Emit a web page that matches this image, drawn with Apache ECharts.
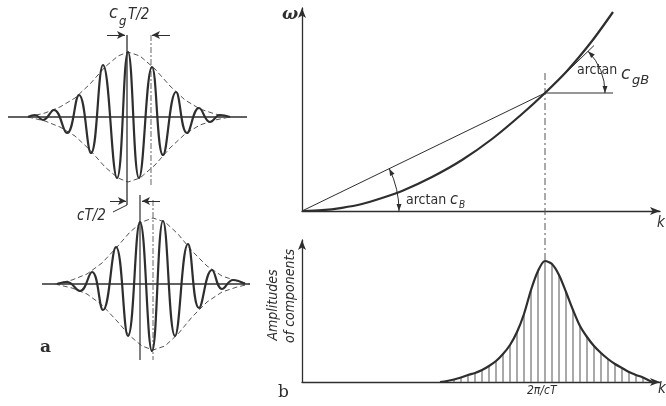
<!DOCTYPE html>
<html>
<head>
<meta charset="utf-8">
<script src="https://cdn.jsdelivr.net/npm/echarts@6.0.0/dist/echarts.min.js"></script>
<style>
  html, body { margin: 0; background: #fff; }
  #chart { width: 666px; height: 406px; }
</style>
</head>
<body>
<div id="chart"></div>
<script>
// wave packet a (t = 0): carrier extrema, envelope
const waveAX = [28, 35, 43, 54, 67, 79, 91, 103, 117, 128, 139, 152, 163, 176, 187, 199, 210, 220, 230];
const waveAY = [0, 2, -3, 7, -16, 22, -36, 52, -61, 65, -61, 50, -38, 25, -16, 9, -5, 2, 0];
const envAX = [28, 45, 60, 75, 90, 105, 118, 128, 140, 155, 170, 185, 200, 215, 230];
const envATop = [0, 4, 10, 19, 33, 50, 61, 65, 61, 48, 31, 17, 8, 3, 0];
const envABot = [0, -4, -10, -19, -33, -50, -61, -65, -61, -48, -31, -17, -8, -3, 0];

// wave packet a (t = T/2)
const waveBX = [57, 67, 80, 92, 103, 116, 128, 140, 152, 163, 175, 188, 199, 212, 222, 233, 245];
const waveBY = [0, 2, -7, 12, -26, 37, -52, 62, -67, 63, -52, 40, -24, 14, -5, 4, 0];
const envBX = [55, 72, 87, 102, 117, 130, 142, 153, 165, 178, 192, 207, 222, 237, 250];
const envBTop = [0, 4, 10, 21, 37, 52, 62, 66, 62, 50, 33, 18, 8, 3, 0];
const envBBot = [0, -4, -10, -21, -37, -52, -62, -66, -62, -50, -33, -18, -8, -3, 0];

// dispersion curve omega(k)
const dispK = [0, 20, 40, 60, 80, 100, 130, 160, 190, 220, 243, 265, 290, 311];
const dispW = [0, 0.8, 3.2, 7, 13, 20, 34, 51, 72, 97, 118, 140, 170, 199];
const kB = 243, wB = 118;           // chosen wave number and its omega
const tangentK = [236, 292];
const tangentW = [111.2, 165.5];

// spectrum: amplitudes of components
const ampK = [138, 145, 152, 159, 166, 173, 180, 187, 194, 201, 208, 215, 222, 229, 236, 243,
              250, 257, 264, 271, 278, 285, 292, 299, 306, 313, 320, 327, 334, 341, 350];
const ampV = [0, 1, 2.5, 4.5, 7, 9, 12, 16, 21, 28, 37, 50, 68, 92, 111, 121,
              118, 107, 90, 72, 56, 45, 36, 29, 23, 18, 14, 10, 7, 4.5, 0];

const INK = '#2e2e2e';
const NARROW = '"Liberation Sans Narrow", "DejaVu Sans Condensed", "DejaVu Sans", sans-serif';
const SERIF = '"DejaVu Serif", "Liberation Serif", serif';

const pts = (xs, ys) => xs.map((x, i) => [x, ys[i]]);

function seg(gi, data, style, extra) {
  return Object.assign({
    type: 'line', xAxisIndex: gi, yAxisIndex: gi, data: data,
    showSymbol: false, silent: true, clip: false,
    lineStyle: Object.assign({ color: INK, width: 1 }, style)
  }, extra || {});
}

function dimArrows(pairs) {
  return {
    silent: true, symbol: ['none', 'arrow'], symbolSize: [6, 8],
    label: { show: false },
    lineStyle: { color: INK, width: 1, type: 'solid' },
    data: pairs.map(p => [{ coord: p[0] }, { coord: p[1] }])
  };
}

const hidden = { show: false };
const axisLineArrow = {
  show: true, onZero: false, symbol: ['none', 'arrow'], symbolSize: [6, 10],
  lineStyle: { color: INK, width: 1.3 }
};

const chart = echarts.init(document.getElementById('chart'));

chart.setOption({
  animation: false,
  backgroundColor: '#fff',
  grid: [
    { left: 0, top: 17, width: 260, height: 200 },
    { left: 0, top: 184, width: 260, height: 200 },
    { left: 302, top: 8, width: 358, height: 203 },
    { left: 302, top: 240, width: 358, height: 142 }
  ],
  xAxis: [
    { gridIndex: 0, type: 'value', min: 0, max: 260, show: false },
    { gridIndex: 1, type: 'value', min: 0, max: 260, show: false },
    { gridIndex: 2, type: 'value', min: 0, max: 358, axisLine: axisLineArrow,
      axisTick: hidden, axisLabel: hidden, splitLine: hidden },
    { gridIndex: 3, type: 'value', min: 0, max: 358, axisLine: axisLineArrow,
      axisTick: hidden, axisLabel: hidden, splitLine: hidden }
  ],
  yAxis: [
    { gridIndex: 0, type: 'value', min: -100, max: 100, show: false },
    { gridIndex: 1, type: 'value', min: -100, max: 100, show: false },
    { gridIndex: 2, type: 'value', min: 0, max: 203, axisLine: axisLineArrow,
      axisTick: hidden, axisLabel: hidden, splitLine: hidden },
    { gridIndex: 3, type: 'value', min: 0, max: 142, axisLine: axisLineArrow,
      axisTick: hidden, axisLabel: hidden, splitLine: hidden }
  ],
  series: [
    // packet t = 0
    seg(0, [[8, 0], [247, 0]], { width: 1.5 }, {
      markLine: dimArrows([[[107, 82], [125, 82]], [[170, 82], [152, 82]]])
    }),
    seg(0, pts(envAX, envATop), { type: [5, 3], color: '#555' }),
    seg(0, pts(envAX, envABot), { type: [5, 3], color: '#555' }),
    seg(0, [[127, 82], [127, -88]], { width: 1.3 }),
    seg(0, [[151, 82], [151, -70]], { type: [6, 2, 2, 2], color: '#666' }),
    seg(0, pts(waveAX, waveAY), { width: 2.2 }, { smooth: 0.45 }),

    // packet t = T/2
    seg(1, [[42, 0], [250, 0]], { width: 1.5 }, {
      markLine: dimArrows([[[110, 83], [126, 83]], [[160, 83], [142, 83]]])
    }),
    seg(1, pts(envBX, envBTop), { type: [5, 3], color: '#555' }),
    seg(1, pts(envBX, envBBot), { type: [5, 3], color: '#555' }),
    seg(1, [[113, 72], [127, 79]], {}),
    seg(1, [[140, 89], [140, -76]], { width: 1.2 }),
    seg(1, [[153, 84], [153, -76]], { type: [6, 2, 2, 2], color: '#666' }),
    seg(1, pts(waveBX, waveBY), { width: 2.2 }, { smooth: 0.45 }),

    // dispersion diagram
    seg(2, [[0, 0], [kB, wB]], { width: 1 }),
    seg(2, pts(tangentK, tangentW), { width: 1 }),
    seg(2, [[kB, wB], [311, wB]], { width: 1 }),
    seg(2, [[kB, 138], [kB, -50]], { type: [7, 3, 2, 3], color: '#555' }),
    seg(2, pts(dispK, dispW), { width: 2.2 }, { smooth: 0.3 }),
    {
      type: 'scatter', xAxisIndex: 2, yAxisIndex: 2, silent: true,
      data: [[kB, wB]], symbol: 'emptyCircle', symbolSize: 6,
      itemStyle: { color: '#fff', borderColor: INK, borderWidth: 1 }
    },

    // spectrum
    {
      type: 'bar', xAxisIndex: 3, yAxisIndex: 3, silent: true,
      data: pts(ampK, ampV), barWidth: 1,
      itemStyle: { color: '#555' }
    },
    seg(3, pts(ampK, ampV), { width: 2.2 }, { smooth: 0.3 })
  ]
});

// construction arcs with arrow heads, placed through the axes of grid 2
function arrowHead(tip, dir, len, w) {
  const bx = tip[0] - dir[0] * len, by = tip[1] - dir[1] * len;
  return {
    type: 'polygon', silent: true,
    shape: { points: [tip, [bx - dir[1] * w, by + dir[0] * w], [bx + dir[1] * w, by - dir[0] * w]] },
    style: { fill: INK }
  };
}

function angleArc(center, r, theta) {
  // theta < 0: upper ray (canvas coordinates), arc from theta down to 0
  const els = [{
    type: 'arc', silent: true,
    shape: { cx: center[0], cy: center[1], r: r, startAngle: theta, endAngle: 0, clockwise: true },
    style: { stroke: INK, fill: null, lineWidth: 1 }
  }];
  const tipTop = [center[0] + r * Math.cos(theta), center[1] + r * Math.sin(theta)];
  const tipBot = [center[0] + r, center[1]];
  els.push(arrowHead(tipTop, [Math.sin(theta), -Math.cos(theta)], 7, 2.5));
  els.push(arrowHead(tipBot, [0, 1], 7, 2.5));
  return els;
}

const p0 = chart.convertToPixel({ gridIndex: 2 }, [0, 0]);
const pB = chart.convertToPixel({ gridIndex: 2 }, [kB, wB]);
const pT = chart.convertToPixel({ gridIndex: 2 }, [tangentK[1], tangentW[1]]);
const thSec = Math.atan2(pB[1] - p0[1], pB[0] - p0[0]);
const thTan = Math.atan2(pT[1] - pB[1], pT[0] - pB[0]);

function txt(left, top, text, font) {
  return {
    type: 'text', left: left, top: top, silent: true,
    style: { text: text, fill: INK, font: font }
  };
}

const graphics = []
  .concat(angleArc(p0, 97, thSec))
  .concat(angleArc(pB, 60, thTan))
  .concat([
    // packet labels
    txt(109, 4, 'c', 'italic 18px ' + NARROW),
    txt(119, 15, 'g', 'italic 13px ' + NARROW),
    txt(128, 8, 'T/2', 'italic 15px ' + NARROW),
    txt(77, 209, 'cT/2', 'italic 15px ' + NARROW),
    txt(40, 339, 'a', 'bold 17px ' + SERIF),

    // dispersion labels
    txt(282, 6, 'ω', 'italic bold 17px ' + SERIF),
    txt(657, 216, 'k', 'italic 15px ' + NARROW),
    txt(406, 193, 'arctan', '14px ' + NARROW),
    txt(450, 192, 'c', 'italic 16px ' + NARROW),
    txt(459, 200, 'B', 'italic 10px ' + NARROW),
    txt(577, 63, 'arctan', '14px ' + NARROW),
    txt(621, 66, 'c', 'italic 17px "DejaVu Sans", sans-serif'),
    txt(632, 74, 'gB', 'italic 13px "DejaVu Sans", sans-serif'),

    // spectrum labels
    txt(278, 384, 'b', '17px ' + SERIF),
    txt(527, 385, '2π/cT', 'italic 12px ' + NARROW),
    txt(658, 382, 'k', 'italic 15px ' + NARROW),
    {
      type: 'text', x: 273, y: 305, rotation: Math.PI / 2, silent: true,
      style: { text: 'Amplitudes', fill: INK, font: 'italic 14px ' + NARROW, align: 'center', verticalAlign: 'middle' }
    },
    {
      type: 'text', x: 290, y: 296, rotation: Math.PI / 2, silent: true,
      style: { text: 'of components', fill: INK, font: 'italic 14px ' + NARROW, align: 'center', verticalAlign: 'middle' }
    }
  ]);

chart.setOption({ graphic: graphics });
</script>
</body>
</html>
